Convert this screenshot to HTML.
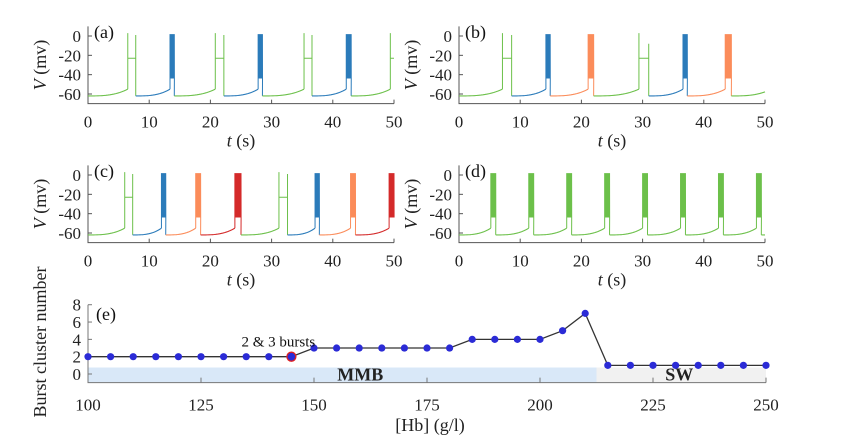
<!DOCTYPE html>
<html><head><meta charset="utf-8"><style>
body{margin:0;background:#fff;}
svg{display:block;font-family:"Liberation Serif",serif;}
text{font-family:"Liberation Serif",serif;}
</style></head><body>
<svg id="fig" width="842" height="445" viewBox="0 0 842 445" xmlns="http://www.w3.org/2000/svg"></svg>
<script>
// Panel events: [type, start, end, color] ; 'g' = green spike pair, 'b' = burst
const panelA = [["g",6.5,7.8,"g"],["b",13.4,14.1,"blue"],["g",20.8,22.2,"g"],["b",27.8,28.5,"blue"],["g",35.3,36.6,"g"],["b",42.2,43.0,"blue"],["g",49.4,52,"g"]];
const panelB = [["g",7.1,8.6,"g"],["b",14.2,14.9,"blue"],["b",21.1,22.0,"orange"],["g",29.4,31.0,"g"],["b",36.6,37.3,"blue"],["b",43.5,44.5,"orange"]];
const panelC = [["g",6.0,7.3,"g"],["b",12.0,12.7,"blue"],["b",17.6,18.4,"orange"],["b",24.0,25.0,"red"],["g",31.2,32.6,"g"],["b",37.1,37.8,"blue"],["b",42.9,43.7,"orange"],["b",49.2,50.0,"red"]];
const panelD = [["b",5.2,6.0,"g"],["b",11.4,12.2,"g"],["b",17.6,18.4,"g"],["b",23.8,24.6,"g"],["b",30.0,30.8,"g"],["b",36.2,37.0,"g"],["b",42.4,43.2,"g"],["b",48.6,49.4,"g"]];
const timeTicks = [0,10,20,30,40,50];
const voltTicks = [0,-20,-40,-60];
const hbValues = [100,105,110,115,120,125,130,135,140,145,150,155,160,165,170,175,180,185,190,195,200,205,210,215,220,225,230,235,240,245,250];
const clusterNumbers = [2,2,2,2,2,2,2,2,2,2,3,3,3,3,3,3,3,4,4,4,4,5,7,1,1,1,1,1,1,1,1];
const hbTicks = [100,125,150,175,200,225,250];
const clusterTicks = [0,2,4,6,8];
const regimes = [["MMB",100,212.5],["SW",212.5,250]];

const COLORS={g:"#6cc04a",blue:"#2b7bba",orange:"#fb8c5a",red:"#d42a2a"};
const NS="http://www.w3.org/2000/svg";
const svg=document.getElementById("fig");
function mk(tag,attrs,parent){const e=document.createElementNS(NS,tag);for(const k in attrs)e.setAttribute(k,attrs[k]);(parent||svg).appendChild(e);return e;}

function panel(events,x0,x1,yOff,label,name){
  const g=mk("g",{});
  
  
  const sx=t=>x0+(t/50)*(x1-x0);
  const sy=v=>36+yOff-(v)*(58/60);
  const ax=mk("path",{d:`M${x0},${sy(10)}V${sy(-70)}H${x1}`,stroke:"#555",fill:"none","stroke-width":1},g);
  
  
  timeTicks.forEach(t=>{mk("line",{x1:sx(t),x2:sx(t),y1:sy(-70),y2:sy(-70)-4,stroke:"#555"},g);
    const tx=mk("text",{x:sx(t),y:sy(-70)+24,"text-anchor":"middle","font-size":17,fill:"#222"},g);tx.textContent=t;
    });
  voltTicks.forEach(v=>{mk("line",{x1:x0,x2:x0+4,y1:sy(v),y2:sy(v),stroke:"#555"},g);
    const tx=mk("text",{x:x0-7,y:sy(v)+6,"text-anchor":"end","font-size":17,fill:"#222"},g);tx.textContent=v;
    });
  const xl=mk("text",{x:(x0+x1)/2,y:sy(-70)+43,"text-anchor":"middle","font-size":18,fill:"#222"},g);
  xl.innerHTML='<tspan font-style="italic">t</tspan> (s)';
  
  const yl=mk("text",{transform:`translate(${x0-42},${sy(-30)}) rotate(-90)`,"text-anchor":"middle","font-size":18,fill:"#222"},g);
  yl.innerHTML='<tspan font-style="italic">V</tspan> (mv)';
  
  const pl=mk("text",{x:x0+6,y:sy(0)+2,"font-size":18,fill:"#111"},g);pl.textContent=label;
  
  let tPrev=0;
  events.forEach((ev,i)=>{
    const [type,ts,te,col]=ev;
    const rampCol = type==="b"?COLORS[col]:COLORS.g;
    let d=`M${sx(tPrev)},${sy(-62)}`;
    const tEnd=Math.min(ts,50);
    for(let k=1;k<=20;k++){const t=tPrev+(tEnd-tPrev)*k/20;const f=(t-tPrev)/(ts-tPrev);d+=`L${sx(t)},${sy(-62+7*f*f*f)}`;}
    const r=mk("path",{d,stroke:rampCol,fill:"none","stroke-width":1.1},g);
    
    if(ts>=50){tPrev=50;return;}
    const c=COLORS[col];
    let e=`M${sx(ts)},${sy(-55)}`;
    if(type==="g"){
      const tE=Math.min(te,50);
      e+=`L${sx(ts)},${sy(3)}L${sx(ts)},${sy(-23)}L${sx(tE)},${sy(-23)}`;
      if(te<=50) e+=`L${sx(te)},${sy(i%2?-8:1)}L${sx(te)},${sy(-62)}`;
    } else {
      const tE=Math.min(te,50);const n=Math.round((tE-ts)*30);
      for(let k=0;k<=n;k++){const t=ts+(tE-ts)*k/n;e+=`L${sx(t)},${sy(2)}L${sx(t+0.015)},${sy(-44)}`;}
      if(te<50) e+=`L${sx(te)},${sy(-62)}`;
    }
    const ep=mk("path",{d:e,stroke:c,fill:"none","stroke-width":1},g);
    
    
    tPrev=te;
  });
  if(tPrev<50){
    let d=`M${sx(tPrev)},${sy(-62)}`;
    for(let k=1;k<=20;k++){const t=tPrev+(50-tPrev)*k/20;const f=(t-tPrev)/(6.5);d+=`L${sx(t)},${sy(-62+7*f*f*f)}`;}
    const r=mk("path",{d,stroke:COLORS.g,fill:"none","stroke-width":1.1},g);
    
  }
}
panel(panelA,88,394,0,"(a)","panel-a");
panel(panelB,459,765,0,"(b)","panel-b");
panel(panelC,88,394,139,"(c)","panel-c");
panel(panelD,459,765,139,"(d)","panel-d");

(function(){
  const g=mk("g",{});
  
  
  const sx=h=>88+(h-100)*(678/150);
  const sy=v=>374-v*8.66;
  regimes.forEach((rg,i)=>{
    const rc=mk("rect",{x:sx(rg[1]),y:sy(0.75),width:sx(rg[2])-sx(rg[1]),height:sy(-1)-sy(0.75),fill:i?"#f1f1f1":"#d9e8f8"},g);
    
    const tx=mk("text",{x:(sx(rg[1])+sx(rg[2]))/2+(i?-2:18),y:sy(-0.75),"text-anchor":"middle","font-size":18,"font-weight":"bold",fill:"#222"},g);
    tx.textContent=rg[0];
  });
  const ax=mk("path",{d:`M${sx(100)},${sy(8)}V${sy(-1)}H${sx(250)}`,stroke:"#777",fill:"none"},g);
  
  hbTicks.forEach(h=>{mk("line",{x1:sx(h),x2:sx(h),y1:sy(-1),y2:sy(-1)-5,stroke:"#777"},g);
    const tx=mk("text",{x:sx(h),y:sy(-1)+28,"text-anchor":"middle","font-size":17,fill:"#222"},g);tx.textContent=h;
    });
  clusterTicks.forEach(v=>{mk("line",{x1:sx(100),x2:sx(100)+4,y1:sy(v),y2:sy(v),stroke:"#777"},g);
    const tx=mk("text",{x:sx(100)-7,y:sy(v)+6,"text-anchor":"end","font-size":17,fill:"#222"},g);tx.textContent=v;
    });
  const xl=mk("text",{x:430,y:431,"text-anchor":"middle","font-size":18,fill:"#222"},g);xl.textContent="[Hb] (g/l)";
  
  const yl=mk("text",{transform:`translate(46,342) rotate(-90)`,"text-anchor":"middle","font-size":18,fill:"#222"},g);yl.textContent="Burst cluster number";
  
  const pl=mk("text",{x:96,y:320,"font-size":18,fill:"#111"},g);pl.textContent="(e)";
  
  const ln=mk("path",{d:hbValues.map((h,i)=>(i?"L":"M")+sx(h)+","+sy(clusterNumbers[i])).join(""),stroke:"#333",fill:"none","stroke-width":1.3},g);
  
  hbValues.forEach((h,i)=>{
    const c=mk("circle",{cx:sx(h),cy:sy(clusterNumbers[i]),r:3.6,fill:"#2b2bd6"},g);
    
  });
  const hl=mk("circle",{cx:sx(145),cy:sy(2),r:4.5,fill:"#2b2bd6",stroke:"#e02020","stroke-width":1.3},g);
  
  const an=mk("text",{x:sx(145)-13,y:sy(2)-10,"text-anchor":"middle","font-size":15,fill:"#111"},g);an.textContent="2 & 3 bursts";
  
})();
</script>
</body></html>
